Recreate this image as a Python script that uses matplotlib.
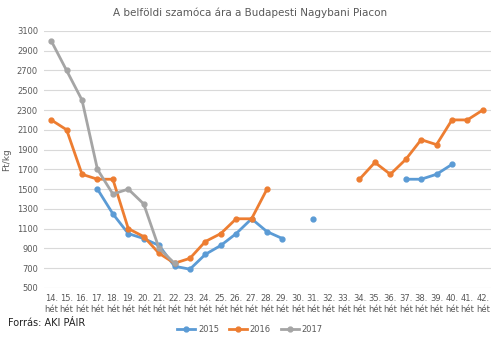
import matplotlib
matplotlib.use("Agg")
import matplotlib.pyplot as plt
import numpy as np

weeks = list(range(14, 43))
labels = [f"{w}.\nhét" for w in weeks]
N = None
s2015 = [N, N, N, 1500, 1250, 1050, 1000, 930, 720, 690, 840, 930, 1050, 1200, 1070, 1000,
         N, 1200, N, N, N, N, N, 1600, 1600, 1650, 1750, N, N]
s2016 = [2200, 2100, 1650, 1600, 1600, 1100, 1020, 850, 750, 800, 970, 1050, 1200, 1200, 1500,
         N, N, N, N, N, 1600, 1770, 1650, 1800, 2000, 1950, 2200, 2200, 2300]
s2017 = [3000, 2700, 2400, 1700, 1450, 1500, 1350, 900, 750, N, N, N, N, N, N,
         N, N, N, N, N, N, N, N, N, N, N, N, N, N]
yticks = list(range(500, 3101, 200))

series = [("2015", s2015, "#5B9BD5"), ("2016", s2016, "#ED7D31"), ("2017", s2017, "#A5A5A5")]

fig = plt.figure(figsize=(5, 3.4), dpi=100)
ax = fig.add_axes([0.087, 0.153, 0.894, 0.756])
x = np.arange(len(weeks))
for name, vals, col in series:
    y = np.array([np.nan if v is None else v for v in vals], dtype=float)
    ax.plot(x, y, color=col, lw=2.0, marker="o", ms=3.5, label=name, zorder=3)

ax.set_xlim(-0.5, len(weeks) - 0.5)
ax.set_ylim(500, 3100)
ax.set_yticks(yticks)
ax.set_yticklabels([str(t) for t in yticks], fontsize=6, color="#595959")
ax.set_xticks(x)
ax.set_xticklabels(labels, fontsize=6, color="#595959", linespacing=1.3)
ax.tick_params(length=0, pad=4)
ax.grid(axis="y", color="#D9D9D9", lw=0.8)
for s in ax.spines.values():
    s.set_visible(False)
ax.set_ylabel("Ft/kg", fontsize=6.5, color="#595959", labelpad=4)
fig.text(0.5, 0.962, "A belföldi szamóca ára a Budapesti Nagybani Piacon", ha="center",
         va="center", fontsize=7.5, color="#595959")
fig.text(0.016, 0.05, "Forrás: AKI PÁIR", ha="left", va="center", fontsize=7, color="#222222")
fig.legend(loc="center", bbox_to_anchor=(0.5, 0.03), ncol=3, frameon=False, fontsize=6,
           handlelength=2.2, columnspacing=1.2, handletextpad=0.3, labelcolor="#595959")
fig.savefig("out.png", dpi=100)
